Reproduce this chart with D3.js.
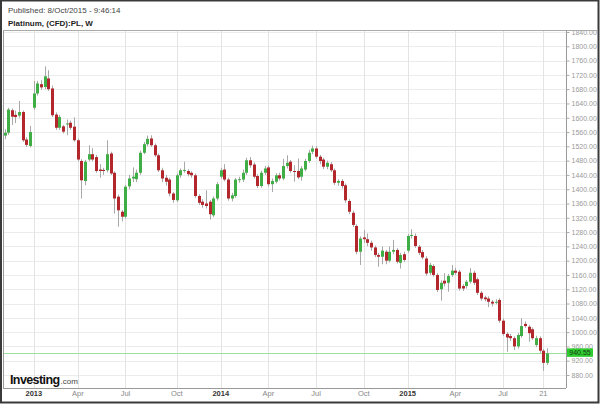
<!DOCTYPE html>
<html><head><meta charset="utf-8">
<script src="https://cdn.jsdelivr.net/npm/d3@7"></script>
<style>body{margin:0;background:#fff}svg{display:block;font-family:Arial,"Liberation Sans",sans-serif}</style>
</head><body><svg id="c" width="600" height="404"></svg>
<script>
const opens=[1550,1558,1621,1608,1606,1616,1539,1521,1628,1668,1694,1686,1710,1682,1609,1572,1576,1583,1586,1575,1537,1479,1423,1483,1498,1490,1455,1454,1453,1500,1446,1379,1337,1323,1408,1430,1428,1446,1502,1526,1542,1523,1495,1453,1432,1427,1388,1369,1439,1453,1451,1446,1439,1381,1365,1360,1365,1327,1374,1435,1455,1427,1374,1381,1427,1427,1446,1481,1469,1437,1409,1446,1461,1414,1421,1439,1430,1465,1477,1451,1451,1435,1455,1479,1505,1514,1491,1483,1463,1470,1453,1418,1423,1411,1367,1334,1297,1225,1265,1260,1250,1237,1216,1211,1225,1200,1225,1230,1194,1218,1228,1270,1269,1239,1224,1206,1166,1185,1160,1120,1144,1138,1160,1172,1169,1129,1129,1141,1166,1148,1110,1097,1094,1085,1084,1090,1032,995,989,983,960,989,1023,1015,1008,964,983,948,914];
const highs=[1568,1628,1626,1620,1647,1620,1545,1577,1703,1703,1705,1744,1733,1690,1615,1608,1580,1595,1592,1601,1542,1484,1482,1523,1515,1496,1470,1460,1537,1505,1450,1385,1342,1412,1440,1461,1455,1508,1532,1550,1551,1528,1500,1460,1440,1432,1392,1444,1458,1477,1456,1450,1444,1386,1372,1397,1370,1380,1420,1460,1470,1432,1390,1432,1435,1455,1488,1490,1475,1442,1452,1465,1466,1430,1445,1446,1485,1495,1482,1467,1486,1465,1485,1510,1522,1520,1496,1488,1480,1476,1458,1428,1428,1416,1372,1340,1302,1268,1286,1276,1256,1242,1222,1240,1230,1240,1258,1235,1222,1225,1275,1288,1276,1244,1230,1212,1194,1190,1165,1145,1165,1163,1188,1180,1174,1134,1146,1179,1172,1153,1115,1102,1100,1090,1092,1095,1038,1000,995,988,998,1039,1030,1020,1013,990,988,952,955];
const lows=[1540,1552,1580,1585,1600,1532,1518,1517,1622,1662,1678,1680,1675,1602,1566,1566,1556,1551,1566,1533,1478,1374,1411,1478,1478,1446,1432,1440,1447,1440,1332,1295,1310,1318,1400,1420,1420,1440,1498,1520,1518,1490,1448,1420,1410,1380,1362,1364,1432,1446,1436,1432,1376,1356,1348,1346,1315,1322,1368,1430,1422,1368,1366,1376,1418,1420,1440,1460,1430,1403,1404,1440,1408,1392,1416,1424,1425,1458,1446,1421,1428,1424,1450,1474,1498,1486,1470,1456,1456,1448,1412,1410,1402,1362,1330,1294,1218,1188,1250,1240,1228,1210,1183,1190,1190,1195,1218,1192,1178,1196,1222,1262,1236,1216,1204,1158,1160,1155,1112,1088,1128,1113,1154,1160,1116,1115,1122,1136,1132,1104,1088,1086,1070,1072,1078,1026,990,945,975,950,954,984,1012,973,978,958,942,892,908];
const closes=[1558,1623,1603,1602,1616,1537,1524,1560,1668,1696,1685,1716,1680,1607,1572,1602,1561,1584,1572,1537,1483,1425,1477,1498,1483,1451,1451,1451,1498,1444,1374,1341,1323,1407,1430,1435,1446,1502,1526,1541,1523,1495,1453,1430,1421,1388,1370,1439,1453,1454,1442,1439,1381,1362,1356,1353,1330,1374,1414,1453,1427,1374,1383,1427,1428,1446,1481,1467,1435,1409,1446,1458,1414,1423,1439,1430,1465,1474,1451,1450,1433,1458,1479,1502,1514,1491,1479,1463,1474,1453,1418,1423,1409,1369,1337,1300,1225,1262,1260,1250,1237,1216,1211,1228,1200,1225,1230,1197,1216,1202,1269,1272,1241,1222,1209,1164,1188,1160,1118,1138,1136,1157,1172,1166,1122,1122,1141,1166,1138,1110,1094,1092,1085,1080,1085,1032,995,985,983,960,992,1017,1017,997,983,983,948,914,940.55];
const xTickIdx=[8,20,33,47,59,72,85,98,110,123,136,147];
const xTickLabels=['2013','Apr','Jul','Oct','2014','Apr','Jul','Oct','2015','Apr','Jul','21'];
const yTicks=[880,920,960,1000,1040,1080,1120,1160,1200,1240,1280,1320,1360,1400,1440,1480,1520,1560,1600,1640,1680,1720,1760,1800,1840];
const lastPrice=940.55;

const svg=d3.select('#c');
const L=3,T=30,R=566,B=388;
const x=d3.scaleLinear().domain([0,closes.length-1]).range([4.5,547]);
const y=d3.scaleLinear().domain([880,1840]).range([375,32]);

const defs=svg.append('defs');
defs.append('clipPath').attr('id','pc').append('rect').attr('x',L).attr('y',T).attr('width',R-L).attr('height',B-T);
defs.append('clipPath').attr('id','ac').append('rect').attr('x',R).attr('y',T+1).attr('width',34).attr('height',B-T);

// grid
const g=svg.append('g').attr('clip-path','url(#pc)');
g.selectAll('.hg').data(yTicks).join('line').attr('x1',L).attr('x2',R).attr('y1',d=>Math.round(y(d))+0.5).attr('y2',d=>Math.round(y(d))+0.5).attr('stroke','#ececec');
g.selectAll('.vg').data(xTickIdx).join('line').attr('x1',d=>Math.round(x(d))+0.5).attr('x2',d=>Math.round(x(d))+0.5).attr('y1',T).attr('y2',B).attr('stroke','#e4e4e4');

// price line
g.append('line').attr('x1',L).attr('x2',R).attr('y1',Math.round(y(lastPrice))+0.5).attr('y2',Math.round(y(lastPrice))+0.5).attr('stroke','#9ddf9d');

// candles
const idx=d3.range(closes.length);
g.selectAll('.wick').data(idx).join('line')
  .attr('x1',i=>Math.round(x(i))+0.5).attr('x2',i=>Math.round(x(i))+0.5)
  .attr('y1',i=>y(highs[i])).attr('y2',i=>y(lows[i]))
  .attr('stroke','#a8a8a8').attr('stroke-width',1);
g.selectAll('.body').data(idx).join('rect')
  .attr('x',i=>Math.round(x(i))-1).attr('width',3)
  .attr('y',i=>y(Math.max(opens[i],closes[i])))
  .attr('height',i=>Math.max(1,Math.abs(y(opens[i])-y(closes[i]))))
  .attr('fill',i=>closes[i]>opens[i]?'#3fae45':(closes[i]<opens[i]?'#b3262b':'#999'));

// frame
svg.append('rect').attr('x',1).attr('y',0.5).attr('width',597.5).attr('height',402).attr('fill','none').attr('stroke','#3a3a3a').attr('stroke-width',2);
svg.append('line').attr('x1',L+0.5).attr('x2',L+0.5).attr('y1',T).attr('y2',B).attr('stroke','#999');
svg.append('line').attr('x1',L).attr('x2',597).attr('y1',T+0.5).attr('y2',T+0.5).attr('stroke','#aaa');
svg.append('line').attr('x1',L).attr('x2',R).attr('y1',B+0.5).attr('y2',B+0.5).attr('stroke','#999');
svg.append('line').attr('x1',R+0.5).attr('x2',R+0.5).attr('y1',T).attr('y2',B).attr('stroke','#999');

// y axis
const yaWrap=svg.append('g').attr('clip-path','url(#ac)');
const ya=yaWrap.append('g').attr('transform',`translate(${R+0.5},0)`)
  .call(d3.axisRight(y).tickValues(yTicks).tickFormat(d3.format('.2f')).tickSize(3).tickPadding(2));
ya.select('.domain').remove();
ya.selectAll('line').attr('stroke','#aaa');
ya.selectAll('text').attr('fill','#9a9a9a').style('font-size','7px').style('font-family','Arial,"Liberation Sans",sans-serif');

// price tag
const py=y(lastPrice);
svg.append('rect').attr('x',567).attr('y',py-5).attr('width',26).attr('height',8.5).attr('fill','#2ecc2e');
svg.append('text').attr('x',580).attr('y',py+1.8).attr('text-anchor','middle').attr('fill','#1a3a1a').style('font-size','7px').text(d3.format('.2f')(lastPrice));

// x axis labels
svg.selectAll('.xl').data(xTickIdx).join('text')
  .attr('x',d=>x(d)).attr('y',396).attr('text-anchor','middle')
  .attr('fill',(d,i)=>/^\d{4}$/.test(xTickLabels[i])?'#333':'#888')
  .style('font-weight',(d,i)=>/^\d{4}$/.test(xTickLabels[i])?'bold':'normal')
  .style('font-size','7.5px').text((d,i)=>xTickLabels[i]);

// header
svg.append('text').attr('x',8).attr('y',13).attr('fill','#444').style('font-size','8px').text('Published: 8/Oct/2015 - 9:46:14');
svg.append('text').attr('x',8).attr('y',26).attr('fill','#222').style('font-size','8px').style('font-weight','bold').text('Platinum, (CFD):PL, W');

// logo
const lg=svg.append('text').attr('x',10).attr('y',384);
lg.append('tspan').style('font-size','12.5px').style('font-weight','bold').style('letter-spacing','-0.6px').attr('fill','#111').text('Investing');
lg.append('tspan').style('font-size','8px').attr('fill','#444').attr('dx',1).text('.com');
</script></body></html>
